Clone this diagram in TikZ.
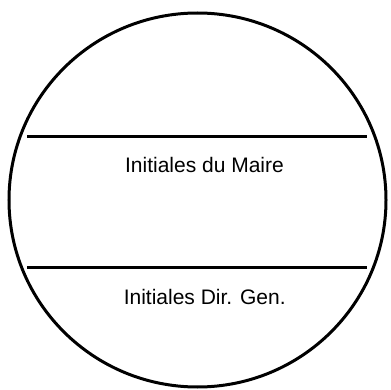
\documentclass[tikz,border=0pt]{standalone}
\usepackage{fontspec}
\setmainfont{Liberation Sans}
\begin{document}
\begin{tikzpicture}[x=1pt,y=-1pt,line width=3pt,
 stamptext/.style={anchor=base,inner sep=0pt,font=\fontsize{21}{25}\selectfont}]
\useasboundingbox (0,0) rectangle (391,390);
% outer seal
\draw (197.5,200) ellipse [x radius=188.5,y radius=187];
% dividing lines
\coordinate (topl) at (27,137);
\coordinate (topr) at (367,137);
\coordinate (botl) at (27,268);
\coordinate (botr) at (367,268);
\draw (topl) -- (topr);
\draw (botl) -- (botr);
% texts
\node[stamptext] (maire) at (204.5,172.7) {Initiales du Maire};
\node[stamptext] (dirgen) at (204.7,304) {Initiales Dir. Gen.};
\end{tikzpicture}
\end{document}
